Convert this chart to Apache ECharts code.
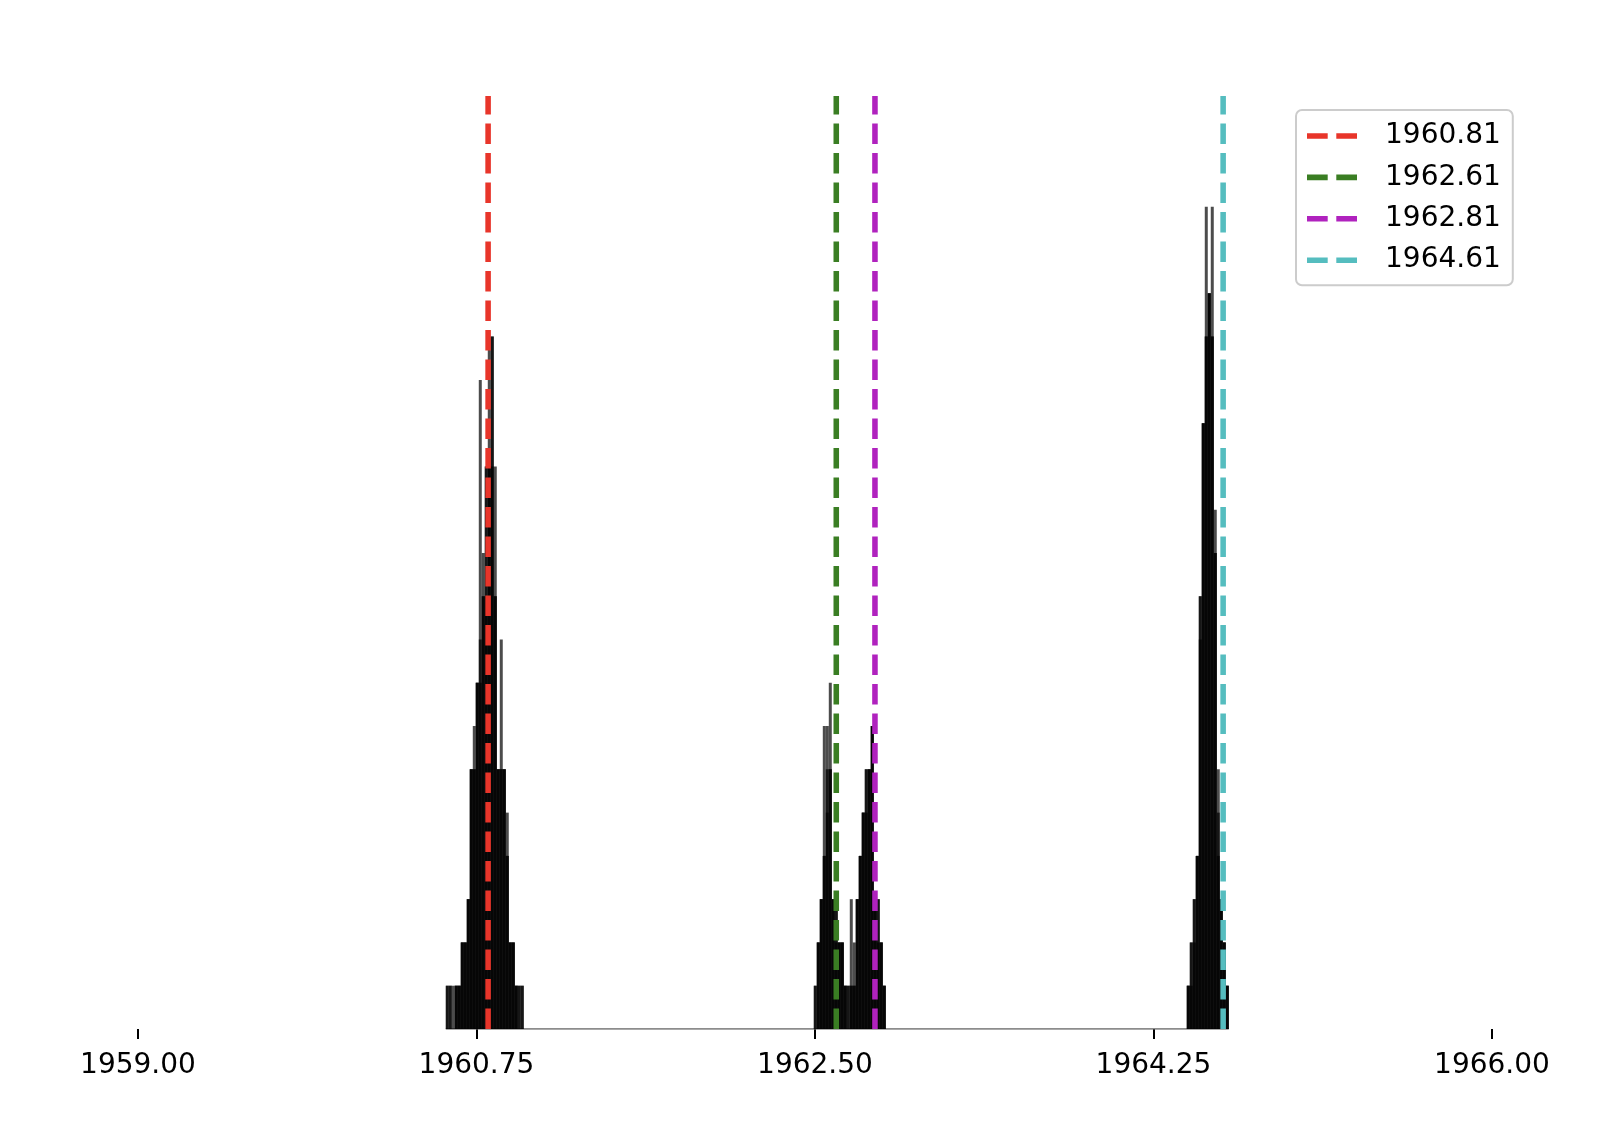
<!DOCTYPE html>
<html>
<head>
<meta charset="utf-8">
<title>Histogram</title>
<script src="https://cdn.jsdelivr.net/npm/echarts@6/dist/echarts.min.js"></script>
<style>
  html, body { margin: 0; padding: 0; background: #ffffff; }
  #chart { width: 1618px; height: 1132px; }
</style>
</head>
<body>
<div id="chart"></div>
<script>
// bin width (years) shared by every run
const binWidth = 0.0155

// cluster 1 (around 1960.8), three overlapping runs
const cluster1Start = 1960.5913
const cluster1RunA = [1, 1, 1, 1, 1, 2, 2, 3, 6, 7, 8, 15, 11, 13, 16, 16, 13, 6, 9, 6, 5, 2, 2, 1, 1, 1]
const cluster1RunB = [0, 1, 0, 1, 1, 2, 2, 3, 6, 6, 8, 9, 10, 13, 13, 16, 10, 6, 6, 6, 4, 2, 2, 1, 0, 1]
const cluster1RunC = [1, 0, 0, 1, 1, 2, 2, 3, 6, 6, 8, 8, 10, 10, 13, 13, 10, 6, 6, 6, 4, 2, 2, 1, 1, 0]

// cluster 2 (two peaks around 1962.6 / 1962.8)
const cluster2Start = 1962.4938
const cluster2RunA = [1, 2, 3, 7, 7, 8, 3, 3, 2, 2, 1, 1, 3, 2, 3, 4, 5, 6, 6, 7, 3, 3, 2, 1]
const cluster2RunB = [1, 2, 3, 4, 6, 6, 3, 3, 2, 2, 1, 0, 1, 1, 3, 4, 5, 6, 6, 7, 3, 3, 2, 1]
const cluster2RunC = [0, 2, 3, 4, 5, 6, 3, 2, 2, 2, 1, 1, 1, 1, 3, 4, 5, 5, 6, 7, 3, 2, 2, 1]

// cluster 3 (around 1964.5)
const cluster3Start = 1964.4221
const cluster3RunA = [1, 2, 3, 4, 10, 14, 19, 17, 19, 12, 6, 3, 2, 1]
const cluster3RunB = [1, 2, 2, 4, 10, 14, 16, 17, 16, 11, 5, 3, 2, 1]
const cluster3RunC = [1, 1, 3, 4, 9, 14, 16, 17, 16, 11, 4, 3, 2, 1]

// reference lines
const lineYears = [1960.81, 1962.61, 1962.81, 1964.61]
const lineLabels = ['1960.81', '1962.61', '1962.81', '1964.61']
const lineColors = ['#e8352a', '#3a7e23', '#b022be', '#55bdbf']

// x axis
const tickValues = [1959, 1960.75, 1962.5, 1964.25, 1966]
const xMin = 1959
const xMax = 1966
const yMax = 21.56

const fontFamily = 'DejaVu Sans'

const toBins = (start, counts) => {
  const out = []
  counts.forEach((c, i) => {
    if (c > 0) out.push([start + i * binWidth, start + (i + 1) * binWidth, c])
  })
  return out
}

const runs = [
  [cluster1Start, cluster1RunA], [cluster1Start, cluster1RunB], [cluster1Start, cluster1RunC],
  [cluster2Start, cluster2RunA], [cluster2Start, cluster2RunB], [cluster2Start, cluster2RunC],
  [cluster3Start, cluster3RunA], [cluster3Start, cluster3RunB], [cluster3Start, cluster3RunC]
]

const histData = []
runs.forEach(([start, counts]) => {
  toBins(start, counts).forEach(b => histData.push(b))
})

const dataMin = Math.min(...histData.map(b => b[0]))
const dataMax = Math.max(...histData.map(b => b[1]))

const renderBin = (params, api) => {
  const topLeft = api.coord([api.value(0), api.value(2)])
  const bottomRight = api.coord([api.value(1), 0])
  return {
    type: 'rect',
    shape: {
      x: topLeft[0],
      y: topLeft[1],
      width: bottomRight[0] - topLeft[0],
      height: bottomRight[1] - topLeft[1]
    },
    style: { fill: 'rgba(0, 0, 0, 0.7)' }
  }
}

const dashIcon = 'path://M0,0H20.7V5.6H0ZM29.3,0H50V5.6H29.3Z'

const chart = echarts.init(document.getElementById('chart'))

const option = {
  backgroundColor: '#ffffff',
  animation: false,
  grid: {
    left: 138,
    right: 126,
    top: 96,
    bottom: 103,
    outerBoundsMode: 'none'
  },
  xAxis: {
    type: 'value',
    min: xMin,
    max: xMax,
    axisLine: { show: false },
    splitLine: { show: false },
    axisTick: {
      show: true,
      customValues: tickValues,
      length: 10,
      lineStyle: { color: '#000000', width: 2 }
    },
    axisLabel: {
      customValues: tickValues,
      formatter: v => Number(v).toFixed(2),
      color: '#000000',
      fontFamily: fontFamily,
      fontSize: 28,
      lineHeight: 28,
      margin: 23
    }
  },
  yAxis: {
    type: 'value',
    min: 0,
    max: yMax,
    show: false
  },
  legend: {
    orient: 'vertical',
    left: 1296,
    top: 110,
    data: lineLabels.map(n => ({ name: n, icon: dashIcon })),
    itemWidth: 50,
    itemHeight: 5.6,
    itemGap: 13.4,
    padding: [12, 12, 11, 11],
    backgroundColor: 'rgba(255, 255, 255, 0.8)',
    borderColor: '#cccccc',
    borderWidth: 2,
    borderRadius: 6,
    selectedMode: false,
    itemStyle: { borderWidth: 0 },
    textStyle: {
      fontFamily: fontFamily,
      fontSize: 28,
      lineHeight: 28,
      color: '#000000',
      padding: [0, 0, 0, 23]
    }
  },
  series: [
    {
      name: 'hist',
      type: 'custom',
      renderItem: renderBin,
      encode: { x: [0, 1], y: 2 },
      data: histData,
      silent: true,
      z: 2
    },
    {
      name: 'baseline',
      type: 'line',
      data: [[dataMin, 0], [dataMax, 0]],
      symbol: 'none',
      silent: true,
      lineStyle: { color: '#666666', width: 1.5 },
      z: 1
    },
    ...lineYears.map((x, i) => ({
      name: lineLabels[i],
      type: 'line',
      data: [[x, 0], [x, yMax]],
      symbol: 'none',
      silent: true,
      color: lineColors[i],
      lineStyle: {
        color: lineColors[i],
        width: 5.56,
        type: [20.6, 8.9],
        cap: 'butt'
      },
      z: 5
    }))
  ]
}

chart.setOption(option)
</script>
</body>
</html>
